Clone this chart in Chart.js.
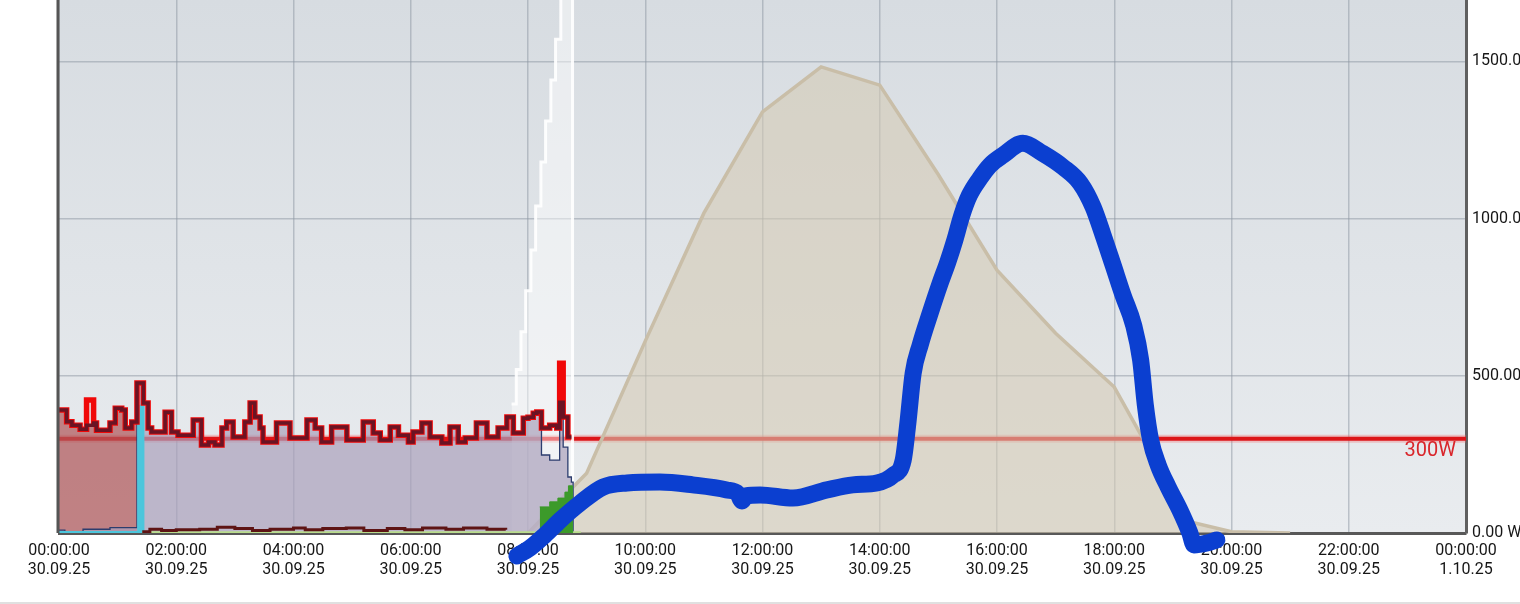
<!DOCTYPE html>
<html lang="de">
<head>
    <meta charset="UTF-8">
    <title>Leistung 30.09.25</title>
    <style>
        body {
            margin: 0;
            padding: 0;
            background-color: #ffffff;
            overflow: hidden;
        }
        /* the plot is taller than the window, its top is cut off like in the screenshot */
        #wrap {
            width: 1520px;
            height: 602px;
            overflow: hidden;
        }
        #powerChart {
            display: block;
            margin-top: -96px;
        }
        .bottom-line {
            width: 1520px;
            height: 2px;
            background-color: #e0e0e0;
        }
    </style>
</head>
<body>
    <div id="wrap"><canvas id="powerChart" width="1520" height="698"></canvas></div>
    <div class="bottom-line"></div>

    <script src="https://cdn.jsdelivr.net/npm/chart.js@4.4.1/dist/chart.umd.min.js"></script>
    <script>
        // x axis tick labels (every 2 hours)
        const tickTimes = ['00:00:00', '02:00:00', '04:00:00', '06:00:00', '08:00:00', '10:00:00', '12:00:00',
                           '14:00:00', '16:00:00', '18:00:00', '20:00:00', '22:00:00', '00:00:00'];
        const tickDates = ['30.09.25', '30.09.25', '30.09.25', '30.09.25', '30.09.25', '30.09.25', '30.09.25',
                           '30.09.25', '30.09.25', '30.09.25', '30.09.25', '30.09.25', '1.10.25'];

        // house load, step start times (hours) and watts
        const loadT = [0.00, 0.13, 0.22, 0.36, 0.47, 0.59, 0.64, 0.87, 0.96, 1.07, 1.13, 1.24, 1.33, 1.44, 1.52, 1.58,
                       1.81, 1.92, 2.03, 2.29, 2.43, 2.55, 2.66, 2.78, 2.86, 2.97, 3.17, 3.26, 3.34, 3.43, 3.48, 3.71,
                       3.94, 4.23, 4.37, 4.48, 4.65, 4.91, 5.19, 5.36, 5.48, 5.65, 5.79, 5.96, 6.04, 6.19, 6.33, 6.53,
                       6.67, 6.81, 6.93, 7.12, 7.30, 7.49, 7.64, 7.75, 7.92, 8.00, 8.09, 8.15, 8.23, 8.37, 8.49, 8.54,
                       8.60, 8.68, 8.74];
        const loadW = [391, 354, 343, 330, 343, 350, 327, 350, 397, 391, 334, 353, 477, 413, 334, 321,
                       384, 321, 311, 359, 280, 289, 280, 334, 353, 305, 353, 413, 369, 334, 289, 350,
                       302, 359, 334, 289, 337, 296, 353, 318, 296, 337, 311, 289, 321, 350, 305, 286,
                       337, 289, 302, 350, 305, 334, 369, 318, 365, 368, 381, 385, 334, 343, 334, 416,
                       369, 305, 305];

        // peaks where the red line goes above the dark one
        const spikeT = [0.47, 8.54];
        const spikeW = [423, 540];

        // grid line at the bottom before 01:20 and its tail after 08:14
        const navyLowT = [0.00, 0.10, 0.41, 0.87];
        const navyLowW = [9, 4, 12, 17];
        const tailT = [8.23, 8.37, 8.54, 8.60, 8.68, 8.74, 8.77];
        const tailW = [248, 232, 416, 273, 178, 162, 0];

        // cyan battery bar
        const cyanT = [0.00, 1.35, 1.44];
        const cyanW = [3, 405, 0];

        // dark line near zero
        const lowT = [1.42, 1.55, 1.75, 2.0, 2.4, 2.7, 3.0, 3.3, 3.6, 4.0, 4.2, 4.5, 4.9, 5.2, 5.6, 5.9, 6.2, 6.6, 6.9, 7.3, 7.62];
        const lowW = [4, 12, 8, 10, 12, 18, 14, 8, 12, 16, 10, 14, 16, 8, 14, 10, 16, 12, 16, 12, 10];
        const paleT = [1.42, 8.9];
        const paleW = [2, 2];

        // pv steps
        const pvT = [8.20, 8.37, 8.51, 8.63, 8.69, 8.76];
        const pvW = [83, 99, 111, 130, 150, 0];

        // white staircase
        const whiteT = [7.72, 7.80, 7.88, 7.96, 8.05, 8.13, 8.22, 8.30, 8.39, 8.47, 8.56, 8.64, 8.76];
        const whiteW = [410, 520, 640, 770, 900, 1040, 1180, 1310, 1440, 1570, 1760, 1950, 0];

        // forecast
        const fcT = [8, 9, 10, 11, 12, 13, 14, 15, 16, 17, 18, 19, 19.3, 20, 21];
        const fcW = [0, 190, 610, 1017, 1339, 1482, 1424, 1139, 836, 635, 464, 130, 35, 4, 0];

        // limit
        const limitT = [0, 24];
        const limitW = [300, 300];

        // hand drawn blue curve
        const sketchT = [7.81, 8.03, 8.29, 8.55, 8.89, 9.28, 9.69, 10.25, 10.81, 11.39, 11.58, 11.65, 11.72, 11.96,
                         12.52, 13.10, 13.54, 13.95, 14.23, 14.40, 14.48, 14.57, 14.69, 14.86, 15.03, 15.16, 15.28,
                         15.40, 15.53, 15.71, 15.88, 16.10, 16.44, 16.78, 17.13, 17.42, 17.64, 17.81, 17.98, 18.15,
                         18.33, 18.45, 18.53, 18.62, 18.75, 18.92, 19.12, 19.29, 19.36, 19.58, 19.75];
        const sketchW = [-73, -48, -6, 41, 95, 146, 159, 162, 153, 137, 125, 102, 118, 121,
                         111, 137, 153, 159, 184, 232, 350, 508, 598, 699, 794, 861, 931,
                         1010, 1074, 1128, 1169, 1201, 1239, 1207, 1163, 1112, 1036, 947, 852, 756,
                         661, 550, 407, 296, 216, 146, 73, 0, -38, -32, -22];

        const pts = (ts, ws) => ts.map((t, i) => ({ x: t, y: ws[i] }));

        const loadPts = pts(loadT, loadW);
        const redPts = loadPts.map(p => {
            const k = spikeT.indexOf(p.x);
            return k >= 0 ? { x: p.x, y: spikeW[k] } : p;
        });
        const redFillPts = loadPts.filter(p => p.x < 1.33).concat([{ x: 1.33, y: 0 }]);
        const purplePts = pts(navyLowT, navyLowW)
            .concat(loadPts.filter(p => p.x >= 1.33 && p.x < 8.23))
            .concat(pts(tailT, tailW));

        const plotBg = {
            id: 'plotBg',
            beforeDraw(chart) {
                const { ctx, chartArea: a } = chart;
                const g = ctx.createLinearGradient(0, a.top + 96, 0, a.bottom);
                g.addColorStop(0, '#d7dce1');
                g.addColorStop(1, '#e9ecef');
                ctx.save();
                ctx.fillStyle = g;
                ctx.fillRect(a.left, a.top, a.right - a.left, a.bottom - a.top);
                ctx.restore();
            },
            afterDatasetsDraw(chart) {
                const { ctx, chartArea: a, scales } = chart;
                ctx.save();
                // left frame
                ctx.strokeStyle = '#555';
                ctx.lineWidth = 3;
                ctx.beginPath();
                ctx.moveTo(a.left - 1, a.top);
                ctx.lineTo(a.left - 1, a.bottom);
                ctx.stroke();
                // limit label
                ctx.fillStyle = '#d9262b';
                ctx.font = '20px Roboto';
                ctx.textAlign = 'right';
                ctx.textBaseline = 'middle';
                ctx.fillText('300W', a.right - 10, scales.y.getPixelForValue(300) + 12);
                ctx.restore();
            }
        };

        const ctx = document.getElementById('powerChart').getContext('2d');
        const powerChart = new Chart(ctx, {
            type: 'line',
            data: {
                datasets: [
                    {
                        label: 'Skizze',
                        data: pts(sketchT, sketchW),
                        borderColor: '#0b3fd0',
                        borderWidth: 17,
                        borderCapStyle: 'round',
                        borderJoinStyle: 'round',
                        cubicInterpolationMode: 'monotone',
                        pointRadius: 0,
                        fill: false,
                        clip: false,
                        order: 0
                    },
                    {
                        label: 'PV',
                        data: pts(pvT, pvW),
                        stepped: true,
                        borderColor: '#3c9a2a',
                        borderWidth: 1,
                        backgroundColor: '#3c9a2a',
                        pointRadius: 0,
                        fill: 'origin',
                        order: 1
                    },
                    {
                        label: 'Netz',
                        data: loadPts,
                        stepped: true,
                        borderColor: '#6a1424',
                        borderWidth: 3.5,
                        pointRadius: 0,
                        fill: false,
                        order: 2
                    },
                    {
                        label: 'Verbrauch',
                        data: redPts,
                        stepped: true,
                        borderColor: '#f00808',
                        borderWidth: 5.5,
                        pointRadius: 0,
                        fill: false,
                        order: 3
                    },
                    {
                        label: 'Einspeisung',
                        data: pts(lowT, lowW),
                        stepped: true,
                        borderColor: '#5e1414',
                        borderWidth: 3,
                        pointRadius: 0,
                        fill: false,
                        order: 2
                    },
                    {
                        label: 'Grundlast',
                        data: pts(paleT, paleW),
                        borderColor: '#b9dc8c',
                        borderWidth: 2,
                        pointRadius: 0,
                        fill: false,
                        order: 3
                    },
                    {
                        label: 'Batterie',
                        data: pts(cyanT, cyanW),
                        stepped: true,
                        borderColor: '#4cc6dc',
                        borderWidth: 2,
                        backgroundColor: '#4cc6dc',
                        pointRadius: 0,
                        fill: 'origin',
                        order: 4
                    },
                    {
                        label: 'Bezug',
                        data: purplePts,
                        stepped: true,
                        borderColor: '#2c3d6e',
                        borderWidth: 1.3,
                        backgroundColor: 'rgba(170, 160, 186, 0.7)',
                        pointRadius: 0,
                        fill: 'origin',
                        order: 5
                    },
                    {
                        label: 'Entladung',
                        data: redFillPts,
                        stepped: true,
                        borderWidth: 0,
                        borderColor: 'rgba(0,0,0,0)',
                        backgroundColor: 'rgba(176, 88, 90, 0.72)',
                        pointRadius: 0,
                        fill: 'origin',
                        order: 5
                    },
                    {
                        label: 'Sonne',
                        data: pts(whiteT, whiteW),
                        stepped: true,
                        borderColor: 'rgba(255, 255, 255, 0.9)',
                        borderWidth: 3,
                        backgroundColor: 'rgba(255, 255, 255, 0.45)',
                        pointRadius: 0,
                        fill: 'origin',
                        order: 6
                    },
                    {
                        label: 'Prognose',
                        data: pts(fcT, fcW),
                        borderColor: '#c9bea8',
                        borderWidth: 3.5,
                        backgroundColor: 'rgba(212, 201, 180, 0.58)',
                        pointRadius: 0,
                        fill: 'origin',
                        order: 7
                    },
                    {
                        label: 'Limit',
                        data: pts(limitT, limitW),
                        borderColor: '#dc1518',
                        borderWidth: 4,
                        pointRadius: 0,
                        fill: false,
                        order: 8
                    },
                    {
                        label: 'Limit Rand',
                        data: pts(limitT, limitW),
                        borderColor: 'rgba(245, 95, 95, 0.3)',
                        borderWidth: 8,
                        pointRadius: 0,
                        fill: false,
                        order: 9
                    }
                ]
            },
            options: {
                responsive: false,
                animation: false,
                layout: { padding: { left: 59, top: 0, right: 0, bottom: 0 } },
                plugins: {
                    legend: { display: false },
                    tooltip: { enabled: false }
                },
                scales: {
                    x: {
                        type: 'linear',
                        min: 0,
                        max: 24,
                        grid: { color: 'rgba(140, 150, 162, 0.5)', lineWidth: 1.5, drawTicks: false },
                        border: { display: true, color: '#585858', width: 3 },
                        ticks: {
                            stepSize: 2,
                            autoSkip: false,
                            maxRotation: 0,
                            padding: 8,
                            color: '#161616',
                            font: { family: 'Roboto', size: 16 },
                            callback: (v) => {
                                const i = Math.round(v / 2);
                                return [tickTimes[i], tickDates[i]];
                            }
                        },
                        afterFit: (s) => {
                            s.height = 69;
                            s.paddingLeft = 0;
                            s.paddingRight = 0;
                        }
                    },
                    y: {
                        position: 'right',
                        min: 0,
                        max: 2000,
                        grid: { color: 'rgba(140, 150, 162, 0.5)', lineWidth: 1.5, drawTicks: false },
                        border: { display: true, color: '#606060', width: 3 },
                        ticks: {
                            stepSize: 500,
                            autoSkip: false,
                            padding: 6,
                            color: '#161616',
                            font: { family: 'Roboto', size: 16 },
                            callback: (v) => v.toFixed(2) + ' W'
                        },
                        afterFit: (s) => {
                            s.width = 54;
                            s.paddingTop = 0;
                            s.paddingBottom = 0;
                        }
                    }
                }
            },
            plugins: [plotBg]
        });
    </script>
</body>
</html>
